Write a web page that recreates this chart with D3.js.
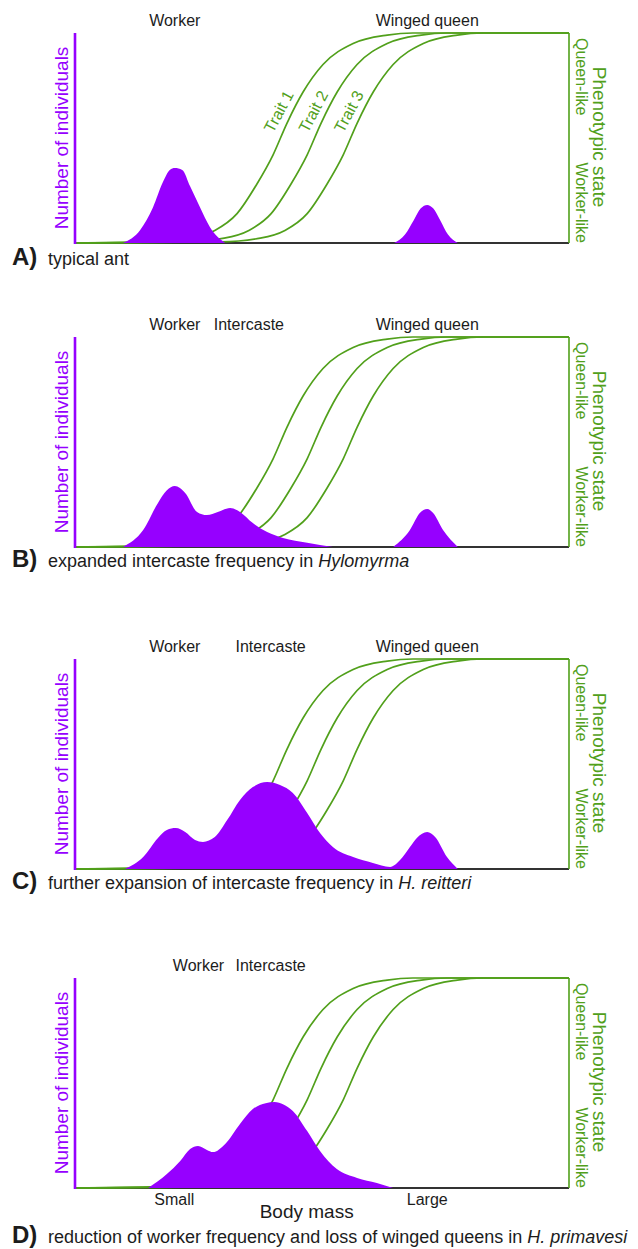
<!DOCTYPE html>
<html>
<head>
<meta charset="utf-8">
<script src="https://cdn.jsdelivr.net/npm/d3@7"></script>
<style>
  html, body { margin: 0; padding: 0; background: #ffffff; }
  svg { display: block; }
  text { font-family: "Liberation Sans", Arial, Helvetica, sans-serif; }
</style>
</head>
<body>
<div id="chart"></div>
<script>
// ---------------- DATA ----------------
// body mass axis runs 0 (small) .. 100 (large); phenotypic state 0 (worker-like) .. 1 (queen-like)
const traitNames = ["Trait 1", "Trait 2", "Trait 3"];
const trait1 = [[0,0],[15.2,0.005],[23.3,0.023],[28.3,0.06],[32.8,0.14],[36.8,0.28],[40.1,0.42],[42.9,0.57],[46.2,0.72],[50.2,0.85],[56.3,0.95],[63.2,0.99],[68.4,1],[100,1]];
const trait2 = [[0,0],[22.1,0.005],[30.2,0.023],[35.2,0.06],[39.7,0.14],[43.7,0.28],[47.0,0.42],[49.8,0.57],[53.1,0.72],[57.1,0.85],[63.2,0.95],[70.1,0.99],[75.3,1],[100,1]];
const trait3 = [[0,0],[29.4,0.005],[37.5,0.023],[42.5,0.06],[47.0,0.14],[51.0,0.28],[54.3,0.42],[57.1,0.57],[60.4,0.72],[64.4,0.85],[70.5,0.95],[77.4,0.99],[82.6,1],[100,1]];
const traitLabelPos = [[40.1,0.52],[47.1,0.52],[54.3,0.52]];

// number of individuals (fraction of axis height), one list of humps per panel
const distA = [
  [[9.7,0],[13.2,0.062],[15.8,0.17],[17.8,0.29],[19.2,0.348],[20.2,0.357],[21.7,0.348],[23.3,0.27],[25.3,0.17],[27.3,0.076],[30.4,0]],
  [[64.6,0],[66.8,0.04],[68.6,0.11],[70.0,0.165],[71.3,0.181],[72.5,0.165],[73.9,0.11],[75.5,0.04],[77.5,0]]
];
const distB = [
  [[9.7,0],[13.8,0.081],[16.8,0.21],[18.6,0.27],[20.2,0.29],[22.3,0.257],[24.7,0.167],[26.7,0.152],[28.9,0.167],[31.4,0.186],[33.4,0.167],[36.0,0.114],[38.9,0.071],[42.1,0.043],[47.0,0.02],[52.2,0]],
  [[64.4,0],[67.8,0.081],[69.8,0.162],[71.3,0.181],[72.5,0.162],[74.5,0.081],[77.5,0]]
];
const distC = [
  [[10.1,0],[13.8,0.057],[16.8,0.148],[18.6,0.186],[20.4,0.195],[22.3,0.176],[24.3,0.138],[25.9,0.129],[28.3,0.152],[30.8,0.233],[33.4,0.329],[36.0,0.39],[38.9,0.414],[41.5,0.40],[44.1,0.362],[47.0,0.267],[49.6,0.171],[52.2,0.105],[56.3,0.057],[60.3,0.029],[63.8,0.01],[65.8,0.043],[67.8,0.105],[69.2,0.148],[71.3,0.176],[72.9,0.152],[75.3,0.057],[77.5,0]]
];
const distD = [
  [[14.8,0],[18.6,0.067],[21.3,0.129],[23.3,0.186],[24.9,0.2],[26.7,0.181],[27.9,0.171],[30.4,0.21],[33.4,0.305],[36.0,0.376],[38.6,0.404],[40.4,0.41],[42.2,0.398],[44.1,0.367],[47.0,0.271],[49.6,0.176],[53.0,0.09],[57.1,0.048],[61.1,0.024],[64.4,0]]
];

// caste labels above each panel: [text, body-mass position]
const casteA = [["Worker",20.2],["Winged queen",71.3]];
const casteB = [["Worker",20.2],["Intercaste",35.2],["Winged queen",71.3]];
const casteC = [["Worker",20.2],["Intercaste",39.6],["Winged queen",71.3]];
const casteD = [["Worker",25.0],["Intercaste",39.6]];

const captionLetters = ["A)","B)","C)","D)"];
const captionTexts = [
  [["typical ant",false]],
  [["expanded intercaste frequency in ",false],["Hylomyrma",true]],
  [["further expansion of intercaste frequency in ",false],["H. reitteri",true]],
  [["reduction of worker frequency and loss of winged queens in ",false],["H. primavesi",true]]
];
const xTickLabels = [["Small",20.1],["Large",71.3]];
const xAxisTitle = "Body mass";
const yLeftTitle = "Number of individuals";
const yRightTitle = "Phenotypic state";
const yRightTicks = ["Queen-like","Worker-like"];

// ---------------- LAYOUT ----------------
const W = 638, H = 1249;
const PURPLE = "#9600ff", GREEN = "#51a01b", DARK = "#1c1c1c";
const panelTops = [33, 337, 659, 978];
const plotH = 210;
const captionY = [265, 567, 889, 1243];
const panels = [
  {dist: distA, castes: casteA, traitLabels: true,  xLabels: false},
  {dist: distB, castes: casteB, traitLabels: false, xLabels: false},
  {dist: distC, castes: casteC, traitLabels: false, xLabels: false},
  {dist: distD, castes: casteD, traitLabels: false, xLabels: true}
];
const traits = [trait1, trait2, trait3];

const svg = d3.select("#chart").append("svg").attr("width", W).attr("height", H);
const x = d3.scaleLinear().domain([0, 100]).range([75, 569]);

panels.forEach((p, i) => {
  const top = panelTops[i];
  const y = d3.scaleLinear().domain([0, 1]).range([top + plotH, top]);
  const g = svg.append("g");

  // baseline (body-mass axis)
  g.append("line").attr("x1", x(0)).attr("x2", x(100)).attr("y1", y(0)).attr("y2", y(0))
    .attr("stroke", "#333").attr("stroke-width", 1.8);

  // trait curves
  const line = d3.line().x(d => x(d[0])).y(d => y(d[1])).curve(d3.curveMonotoneX);
  traits.forEach(t => {
    g.append("path").attr("d", line(t)).attr("fill", "none").attr("stroke", GREEN).attr("stroke-width", 1.7);
  });

  // right axis
  g.append("line").attr("x1", x(100)).attr("x2", x(100)).attr("y1", y(0)).attr("y2", y(1))
    .attr("stroke", GREEN).attr("stroke-width", 1.6);

  // distributions
  const area = d3.area().x(d => x(d[0])).y0(y(0)).y1(d => y(d[1])).curve(d3.curveMonotoneX);
  p.dist.forEach(seg => {
    g.append("path").attr("d", area(seg)).attr("fill", PURPLE);
  });

  // left axis
  g.append("line").attr("x1", x(0)).attr("x2", x(0)).attr("y1", y(0) + 1).attr("y2", y(1))
    .attr("stroke", PURPLE).attr("stroke-width", 2.6);

  // left title
  g.append("text").attr("transform", `translate(68,${(y(0) + y(1)) / 2}) rotate(-90)`)
    .attr("text-anchor", "middle").attr("font-size", 19).attr("fill", PURPLE).text(yLeftTitle);

  // right title & ticks
  g.append("text").attr("transform", `translate(593,${(y(0) + y(1)) / 2 - 1}) rotate(90)`)
    .attr("text-anchor", "middle").attr("font-size", 19).attr("fill", GREEN).text(yRightTitle);
  g.append("text").attr("transform", `translate(576,${y(1) + 5}) rotate(90)`)
    .attr("text-anchor", "start").attr("font-size", 16).attr("fill", GREEN).text(yRightTicks[0]);
  g.append("text").attr("transform", `translate(576,${y(0)}) rotate(90)`)
    .attr("text-anchor", "end").attr("font-size", 16).attr("fill", GREEN).text(yRightTicks[1]);

  // caste labels
  p.castes.forEach(c => {
    g.append("text").attr("x", x(c[1])).attr("y", y(1) - 7).attr("text-anchor", "middle")
      .attr("font-size", 16).attr("fill", DARK).text(c[0]);
  });

  // trait labels
  if (p.traitLabels) {
    traitLabelPos.forEach((tp, k) => {
      g.append("text").attr("transform", `translate(${x(tp[0])},${y(tp[1])}) rotate(-62)`)
        .attr("font-size", 16).attr("fill", GREEN).text(traitNames[k]);
    });
  }

  // body mass axis labels
  if (p.xLabels) {
    xTickLabels.forEach(t => {
      g.append("text").attr("x", x(t[1])).attr("y", y(0) + 17).attr("text-anchor", "middle")
        .attr("font-size", 16).attr("fill", DARK).text(t[0]);
    });
    g.append("text").attr("x", x(46.9)).attr("y", y(0) + 30).attr("text-anchor", "middle")
      .attr("font-size", 19).attr("fill", DARK).text(xAxisTitle);
  }

  // caption
  g.append("text").attr("x", 12).attr("y", captionY[i]).attr("font-size", 24).attr("font-weight", "bold")
    .attr("fill", DARK).text(captionLetters[i]);
  const cap = g.append("text").attr("x", 48).attr("y", captionY[i]).attr("font-size", 18).attr("fill", DARK);
  captionTexts[i].forEach(part => {
    cap.append("tspan").attr("font-style", part[1] ? "italic" : "normal").text(part[0]);
  });
});
</script>
</body>
</html>
